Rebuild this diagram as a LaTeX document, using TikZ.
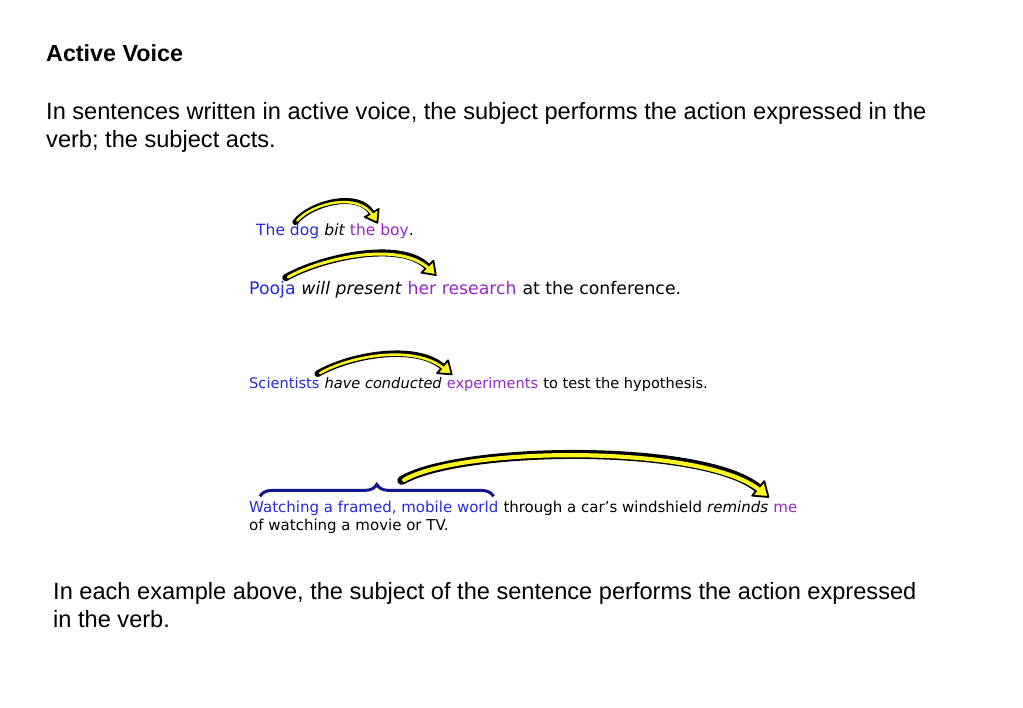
\documentclass[tikz,border=0pt]{standalone}
\usepackage{fontspec}
\setmainfont{Liberation Sans}
\newfontfamily\vfont{DejaVu Sans}
\usetikzlibrary{positioning,calc,decorations.pathreplacing}

\definecolor{subjblue}{RGB}{40,40,220}
\definecolor{objpurple}{RGB}{150,40,200}
\definecolor{bracenavy}{RGB}{20,20,140}
\definecolor{hlyellow}{RGB}{250,245,30}

\tikzset{
    word/.style={inner sep=0pt, anchor=base west},
    subj/.style={word, text=subjblue},
    obj/.style={word, text=objpurple},
    verb/.style={word, text=black},
    txt/.style={inner sep=0pt, anchor=base west, font=\fontsize{23.6}{28}\selectfont},
    title/.style={txt, font=\bfseries\fontsize{23.3}{28}\selectfont},
    hlhead/.style={fill=hlyellow, draw=black, line width=1.8pt, line join=round},
    hlcore/.style={hlyellow, line cap=round, transform canvas={shift={(0.2pt,-0.7pt)}}},
}

% highlight arrow: tail, head base, out, in, looseness, band, core, head
\newcommand{\hlarrow}[8]{%
    \draw[black, line width=#6, line cap=round] (#1) to[out=#3,in=#4,looseness=#5] (#2);
    \path[hlhead] ($(#2)+(#4-90:#8)$) -- ($(#2)+(#4+180:1.4*#8)$) -- ($(#2)+(#4+90:#8)$) -- cycle;
    \draw[hlcore, line width=#7, shorten <=2.5pt, shorten >=-2.5pt] (#1) to[out=#3,in=#4,looseness=#5] (#2);
}

\begin{document}
\begin{tikzpicture}[x=1pt, y=1pt]
    \useasboundingbox (0,0) rectangle (1023,-708);

    % Heading and definition
    \node [title] (head) at (46,-62) {Active Voice};
    \node [txt] (def1) at (46,-120) {In sentences written in active voice, the subject performs the action expressed in the};
    \node [txt] (def2) at ([yshift=-28pt]def1.base west) {verb; the subject acts.};

    % Sentence 1
    \begin{scope}[every node/.append style={font=\vfont\fontsize{15.5}{18}\selectfont}]
    \node [subj] (s1a) at (256,-236) {The dog};
    \node [verb, base right=4.9pt of s1a] (s1b) {\itshape bit};
    \node [obj, base right=4.9pt of s1b] (s1c) {the boy\textcolor{black}{.}};
    \end{scope}

    % Sentence 2
    \begin{scope}[every node/.append style={font=\vfont\fontsize{17.3}{20}\selectfont}]
    \node [subj] (s2a) at (249,-295) {Pooja};
    \node [verb, base right=5.5pt of s2a] (s2b) {\itshape will present};
    \node [obj, base right=5.5pt of s2b] (s2c) {her research};
    \node [word, base right=5.5pt of s2c] (s2d) {at the conference.};
    \end{scope}

    % Sentence 3
    \begin{scope}[every node/.append style={font=\vfont\fontsize{14.6}{17}\selectfont}]
    \node [subj] (s3a) at (249,-389) {Scientists};
    \node [verb, base right=4.65pt of s3a] (s3b) {\itshape have conducted};
    \node [obj, base right=4.65pt of s3b] (s3c) {experiments};
    \node [word, base right=4.65pt of s3c] (s3d) {to test the hypothesis.};
    \end{scope}

    % Sentence 4
    \begin{scope}[every node/.append style={font=\vfont\fontsize{15}{18}\selectfont}]
    \node [subj] (s4a) at (249,-512) {Watching a framed, mobile world};
    \node [word, base right=4.8pt of s4a] (s4b) {through a car’s windshield};
    \node [verb, base right=4.8pt of s4b] (s4c) {\itshape reminds};
    \node [obj, base right=4.8pt of s4c] (s4d) {me};
    \node [word] (s4e) at ([yshift=-18pt]s4a.base west) {of watching a movie or TV.};
    \end{scope}

    % Brace over the subject
    \draw [bracenavy, line width=3pt, decorate, decoration={brace, amplitude=12pt}]
        ([xshift=11pt, yshift=4pt]s4a.north west) -- ([xshift=-5pt, yshift=4pt]s4a.north east);

    % Arrow ends
    \coordinate (t1) at ($(s1a.north east)+(-24,2)$);
    \coordinate (e1) at ($(s1c.north west)+(22,11)$);
    \coordinate (t2) at ($(s2a.north east)+(-10,4)$);
    \coordinate (e2) at ($(s2c.north west)+(20,15)$);
    \coordinate (t3) at ($(s3a.north east)+(-2,4)$);
    \coordinate (e3) at ($(s3c.north west)+(-4,11)$);
    \coordinate (t4) at ($(s4a.north)+(28,20)$);
    \coordinate (e4) at ($(s4d.north west)+(-15,15)$);

    % Arrows
    \hlarrow{t1}{e1}{50}{120}{0.85}{6pt}{2.4pt}{8}
    \hlarrow{t2}{e2}{30}{135}{0.7}{7pt}{3pt}{8.5}
    \hlarrow{t3}{e3}{30}{140}{0.75}{6.5pt}{2.6pt}{8.5}
    \hlarrow{t4}{e4}{30}{140}{0.5}{9pt}{4.2pt}{9.5}

    % Closing remark
    \node [txt] (rem1) at (53,-599) {In each example above, the subject of the sentence performs the action expressed};
    \node [txt] (rem2) at ([yshift=-28pt]rem1.base west) {in the verb.};
\end{tikzpicture}
\end{document}
